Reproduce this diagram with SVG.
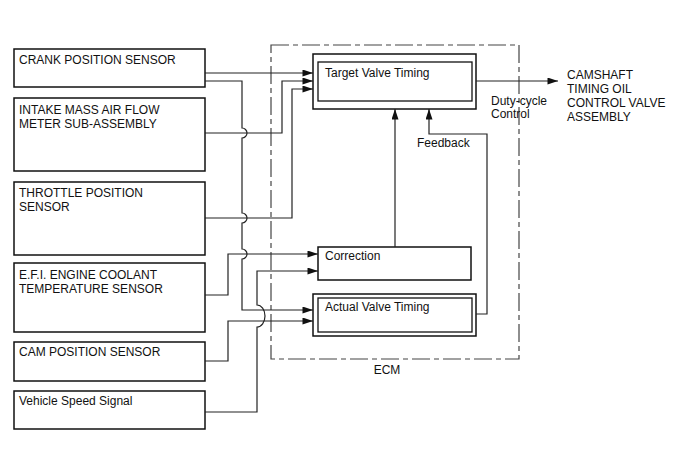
<svg xmlns="http://www.w3.org/2000/svg" width="688" height="463" viewBox="0 0 688 463">
<style>
text{font-family:"Liberation Sans",Arial,sans-serif;font-size:12px;fill:#111}
.box{fill:#fff;stroke:#111;stroke-width:1.5}
.ibox{fill:none;stroke:#111;stroke-width:1.3}
.ln{fill:none;stroke:#222;stroke-width:1.2}
.arr{fill:none;stroke:#222;stroke-width:1.2;marker-end:url(#ah)}
.ecm{fill:none;stroke:#444;stroke-width:1.2;stroke-dasharray:18 4 5 4}
</style>
<defs>
<marker id="ah" viewBox="0 0 12 8" refX="12" refY="4" markerWidth="12" markerHeight="7" orient="auto" markerUnits="userSpaceOnUse"><path d="M0,0 L12,4 L0,8 z" fill="#111"/></marker>
</defs>
<rect width="688" height="463" fill="#fff"/>
<g id="ecm">
<rect class="ecm" x="271" y="45" width="248" height="314"/>
<text x="387" y="374" text-anchor="middle">ECM</text>
</g>
<g id="crank"><rect class="box" x="14" y="49" width="191" height="38"/><text x="19" y="64">CRANK POSITION SENSOR</text></g>
<g id="intake"><rect class="box" x="14" y="98" width="191" height="73"/><text x="19" y="114">INTAKE MASS AIR FLOW</text><text x="19" y="128">METER SUB-ASSEMBLY</text></g>
<g id="throttle"><rect class="box" x="14" y="182" width="191" height="73"/><text x="19" y="197">THROTTLE POSITION</text><text x="19" y="211">SENSOR</text></g>
<g id="ect"><rect class="box" x="14" y="263" width="191" height="69"/><text x="19" y="279">E.F.I. ENGINE COOLANT</text><text x="19" y="293">TEMPERATURE SENSOR</text></g>
<g id="cam"><rect class="box" x="14" y="342" width="191" height="39"/><text x="19" y="356">CAM POSITION SENSOR</text></g>
<g id="vss"><rect class="box" x="14" y="391" width="191" height="38"/><text x="19" y="405">Vehicle Speed Signal</text></g>
<g id="target"><rect class="box" x="313" y="54" width="163" height="55"/><rect class="ibox" x="318" y="62" width="154" height="39"/><text x="325" y="77">Target Valve Timing</text></g>
<g id="correction"><rect class="box" x="318" y="247" width="153" height="33"/><text x="325" y="260">Correction</text></g>
<g id="actual"><rect class="box" x="313" y="294" width="163" height="42"/><rect class="ibox" x="318" y="298" width="154" height="34"/><text x="325" y="311">Actual Valve Timing</text></g>
<g id="output"><text x="567" y="79">CAMSHAFT</text><text x="567" y="93">TIMING OIL</text><text x="567" y="107">CONTROL VALVE</text><text x="567" y="121">ASSEMBLY</text></g>
<g id="connectors">
<path class="arr" d="M205,73 H313"/>
<path class="arr" d="M205,81 H242 V128 A5,5 0 0 1 242,138 V213 A5,5 0 0 1 242,223 V249 A5,5 0 0 1 242,259 V310 H313"/>
<path class="arr" d="M205,133 H282 V81 H313"/>
<path class="arr" d="M205,218 H292 V89 H313"/>
<path class="arr" d="M205,295 H228 V254 H318"/>
<path class="arr" d="M205,361 H228 V321 H313"/>
<path class="arr" d="M205,412 H257 V327 A8,11 0 0 0 257,305 V271 H318"/>
<path class="arr" d="M395,247 V109"/>
<path class="arr" d="M476,314 H487 V134 H429 V109"/>
<path class="arr" d="M476,81 H558"/>
<text x="491" y="105">Duty-cycle</text>
<text x="491" y="118">Control</text>
<text x="417" y="147">Feedback</text>
</g>
</svg>
